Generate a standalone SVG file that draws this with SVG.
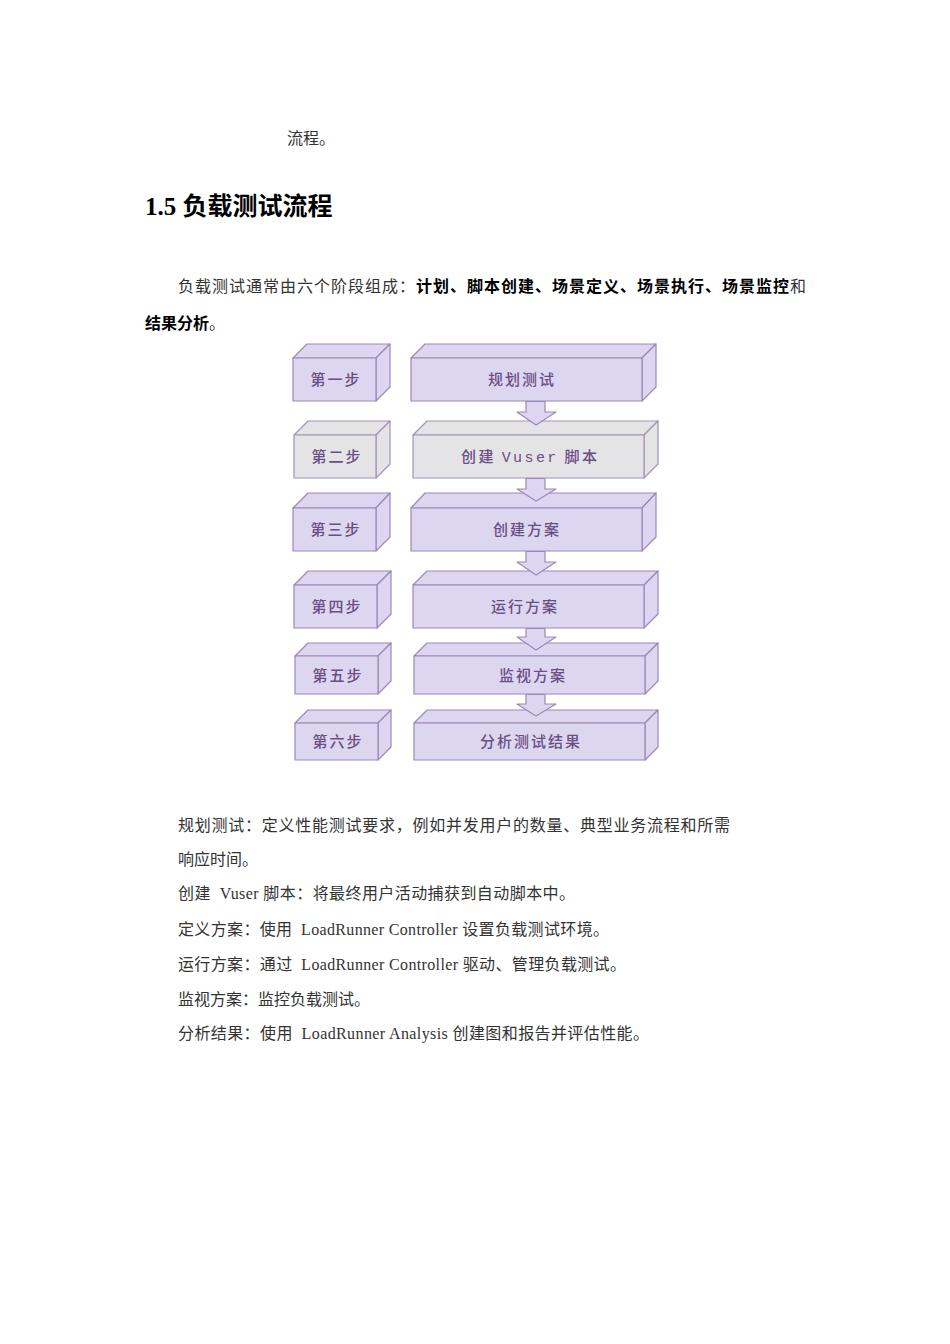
<svg xmlns="http://www.w3.org/2000/svg" width="950" height="1344" viewBox="0 0 950 1344">
<style>
.body{font-family:"Liberation Serif","Noto Sans CJK SC",serif;font-size:16px;fill:#333;}
.b{font-weight:bold;fill:#000;}
.h{font-family:"Liberation Serif","Noto Sans CJK SC",serif;font-size:25px;font-weight:bold;fill:#000;}
.p{fill:#dcd6f0;stroke:#9c88b6;stroke-width:1.2;stroke-linejoin:round;}
.g{fill:#e4e3e6;stroke:#a493b6;stroke-width:1.2;stroke-linejoin:round;}
.lbl{font-family:"Noto Sans CJK SC",sans-serif;font-size:15px;font-weight:500;fill:#6a4e84;text-anchor:middle;letter-spacing:2px;}
.arr{fill:#dcd6f0;stroke:#9c88b6;stroke-width:1.2;stroke-linejoin:round;}
</style>
<rect width="950" height="1344" fill="#fff"/>

<text class="body" x="287" y="144">流程。</text>
<text class="h" x="145" y="215">1.5 负载测试流程</text>
<text class="body" x="178" y="292" textLength="628" lengthAdjust="spacing">负载测试通常由六个阶段组成：<tspan class="b">计划、脚本创建、场景定义、场景执行、场景监控</tspan>和</text>
<text class="body" x="145" y="329"><tspan class="b">结果分析</tspan>。</text>

<g id="step1">
<polygon class="p" points="293,358 307,344 390,344 376,358"/>
<polygon class="p" points="376,358 390,344 390,387 376,401"/>
<rect class="p" x="293" y="358" width="83" height="43"/>
<text class="lbl" x="336" y="385">第一步</text>
</g>
<g id="plan">
<polygon class="p" points="411,358 425,344 656,344 642,358"/>
<polygon class="p" points="642,358 656,344 656,387 642,401"/>
<rect class="p" x="411" y="358" width="231" height="43"/>
<text class="lbl" x="522" y="385">规划测试</text>
</g>

<g id="step2">
<polygon class="g" points="294,435 308,421 390,421 376,435"/>
<polygon class="g" points="376,435 390,421 390,464 376,478"/>
<rect class="g" x="294" y="435" width="82" height="43"/>
<text class="lbl" x="337" y="462">第二步</text>
</g>
<g id="vuser">
<polygon class="g" points="413,435 427,421 658,421 644,435"/>
<polygon class="g" points="644,435 658,421 658,464 644,478"/>
<rect class="g" x="413" y="435" width="231" height="43"/>
<text class="lbl" x="461" y="462" style="text-anchor:start;letter-spacing:0" textLength="136" lengthAdjust="spacing">创建 <tspan font-family="Liberation Mono" font-weight="normal">Vuser</tspan> 脚本</text>
</g>

<g id="step3">
<polygon class="p" points="293,508 308,493 390,493 376,508"/>
<polygon class="p" points="376,508 390,493 390,537 376,551"/>
<rect class="p" x="293" y="508" width="83" height="43"/>
<text class="lbl" x="336" y="535">第三步</text>
</g>
<g id="create">
<polygon class="p" points="411,508 425,493 656,493 642,508"/>
<polygon class="p" points="642,508 656,493 656,537 642,551"/>
<rect class="p" x="411" y="508" width="231" height="43"/>
<text class="lbl" x="527" y="535">创建方案</text>
</g>

<g id="step4">
<polygon class="p" points="294,585 308,571 391,571 377,585"/>
<polygon class="p" points="377,585 391,571 391,614 377,628"/>
<rect class="p" x="294" y="585" width="83" height="43"/>
<text class="lbl" x="337" y="612">第四步</text>
</g>
<g id="run">
<polygon class="p" points="413,585 427,571 658,571 644,585"/>
<polygon class="p" points="644,585 658,571 658,614 644,628"/>
<rect class="p" x="413" y="585" width="231" height="43"/>
<text class="lbl" x="525" y="612">运行方案</text>
</g>

<g id="step5">
<polygon class="p" points="295,656 308,643 391,643 378,656"/>
<polygon class="p" points="378,656 391,643 391,681 378,694"/>
<rect class="p" x="295" y="656" width="83" height="38"/>
<text class="lbl" x="338" y="681">第五步</text>
</g>
<g id="monitor">
<polygon class="p" points="414,656 427,643 658,643 645,656"/>
<polygon class="p" points="645,656 658,643 658,681 645,694"/>
<rect class="p" x="414" y="656" width="231" height="38"/>
<text class="lbl" x="533" y="681">监视方案</text>
</g>

<g id="step6">
<polygon class="p" points="295,723 308,710 391,710 378,723"/>
<polygon class="p" points="378,723 391,710 391,747 378,760"/>
<rect class="p" x="295" y="723" width="83" height="37"/>
<text class="lbl" x="338" y="747">第六步</text>
</g>
<g id="analyze">
<polygon class="p" points="414,723 427,710 658,710 645,723"/>
<polygon class="p" points="645,723 658,710 658,747 645,760"/>
<rect class="p" x="414" y="723" width="231" height="37"/>
<text class="lbl" x="531" y="747">分析测试结果</text>
</g>

<g id="connectors">
<polygon class="arr" points="526,401.5 545,401.5 545,412 556,412 536,425 517,412 526,412"/>
<polygon class="arr" points="526,478.5 545,478.5 545,489 556,489 536,501 517,489 526,489"/>
<polygon class="arr" points="526,551.5 545,551.5 545,562 556,562 536,575 517,562 526,562"/>
<polygon class="arr" points="526,628.5 545,628.5 545,637 556,637 536,650 517,637 526,637"/>
<polygon class="arr" points="526,694.5 545,694.5 545,704 556,704 536,716 517,704 526,704"/>
</g>

<text class="body" x="178" y="831" textLength="552" lengthAdjust="spacing">规划测试：定义性能测试要求，例如并发用户的数量、典型业务流程和所需</text>
<text class="body" x="178" y="865">响应时间。</text>
<text class="body" x="178" y="899" textLength="397" lengthAdjust="spacing" xml:space="preserve">创建  Vuser 脚本：将最终用户活动捕获到自动脚本中。</text>
<text class="body" x="178" y="935" textLength="431" lengthAdjust="spacing" xml:space="preserve">定义方案：使用  LoadRunner Controller 设置负载测试环境。</text>
<text class="body" x="178" y="970" textLength="448" lengthAdjust="spacing" xml:space="preserve">运行方案：通过  LoadRunner Controller 驱动、管理负载测试。</text>
<text class="body" x="178" y="1005">监视方案：监控负载测试。</text>
<text class="body" x="178" y="1039" textLength="471" lengthAdjust="spacing" xml:space="preserve">分析结果：使用  LoadRunner Analysis 创建图和报告并评估性能。</text>
</svg>
